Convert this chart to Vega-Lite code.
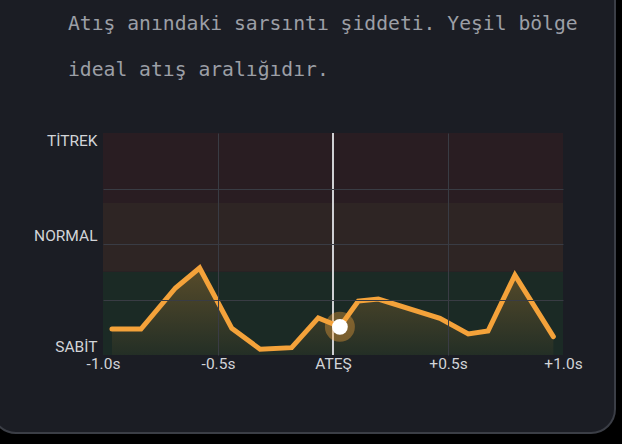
{
  "$schema": "https://vega.github.io/schema/vega-lite/v6.json",
  "width": 460,
  "height": 222,
  "autosize": {"type": "none"},
  "padding": {"left": 103, "top": 133, "right": 59, "bottom": 89},
  "background": "#000000",
  "title": {
    "text": ["Atış anındaki sarsıntı şiddeti. Yeşil bölge", "ideal atış aralığıdır."],
    "anchor": "start",
    "frame": "group",
    "dx": -35,
    "offset": -121,
    "font": "DejaVu Sans Mono",
    "fontSize": 19.7,
    "fontWeight": "normal",
    "color": "#9c9fa6",
    "lineHeight": 46,
    "zindex": 1
  },
  "data": {
    "values": [
      {"t": -0.961, "v": 0.117, "shot": 0},
      {"t": -0.835, "v": 0.117, "shot": 0},
      {"t": -0.685, "v": 0.302, "shot": 0},
      {"t": -0.58, "v": 0.392, "shot": 0},
      {"t": -0.44, "v": 0.12, "shot": 0},
      {"t": -0.317, "v": 0.026, "shot": 0},
      {"t": -0.18, "v": 0.033, "shot": 0},
      {"t": -0.064, "v": 0.167, "shot": 0},
      {"t": 0.03, "v": 0.127, "shot": 1},
      {"t": 0.11, "v": 0.243, "shot": 0},
      {"t": 0.197, "v": 0.252, "shot": 0},
      {"t": 0.465, "v": 0.165, "shot": 0},
      {"t": 0.588, "v": 0.095, "shot": 0},
      {"t": 0.674, "v": 0.108, "shot": 0},
      {"t": 0.791, "v": 0.36, "shot": 0},
      {"t": 0.958, "v": 0.083, "shot": 0}
    ]
  },
  "layer": [
    {
      "data": {"values": [{"panel": "card"}]},
      "mark": {"type": "rect", "clip": false, "cornerRadius": 24, "fill": "#1b1d24", "stroke": "#3b3e46", "strokeWidth": 2},
      "encoding": {
        "x": {
          "datum": -1.4826, "type": "quantitative",
          "scale": {"domain": [-1, 1], "nice": false, "zero": false},
          "axis": {
            "title": null,
            "values": [-1, -0.5, 0, 0.5, 1],
            "labelExpr": "datum.value == -1 ? '-1.0s' : datum.value == -0.5 ? '-0.5s' : datum.value == 0 ? 'ATEŞ' : datum.value == 0.5 ? '+0.5s' : '+1.0s'",
            "ticks": false,
            "domain": false,
            "grid": true,
            "gridColor": "#393c44",
            "gridOpacity": {"condition": {"test": "abs(datum.value) == 0.5", "value": 1}, "value": 0},
            "labelPadding": 1,
            "labelFont": "Roboto",
            "labelFontSize": 15.5,
            "labelColor": "#d2d4d8",
            "labelFlush": false,
            "labelOverlap": false,
            "labelBound": false,
            "zindex": 1
          }
        },
        "x2": {"datum": 1.2261},
        "y": {
          "datum": -0.3514, "type": "quantitative",
          "scale": {"domain": [0, 1], "nice": false, "zero": false},
          "axis": {
            "title": null,
            "values": [0, 0.25, 0.5, 0.75, 1],
            "labelExpr": "datum.value == 0 ? 'SABİT' : datum.value == 0.5 ? 'NORMAL' : datum.value == 1 ? 'TİTREK' : ''",
            "ticks": false,
            "domain": false,
            "grid": true,
            "gridColor": "#393c44",
            "gridOpacity": {"condition": {"test": "datum.value > 0 && datum.value < 1", "value": 1}, "value": 0},
            "labelOffset": {"condition": {"test": "datum.value == 1", "value": 7}, "value": -8.5},
            "labelPadding": 6,
            "labelFont": "Roboto",
            "labelFontSize": 15.5,
            "labelColor": "#d2d4d8",
            "labelFlush": false,
            "labelOverlap": false,
            "labelBound": false,
            "zindex": 1
          }
        },
        "y2": {"datum": 1.779}
      }
    },
    {
      "data": {
        "values": [
          {"zone": "SABİT", "lo": 0, "hi": 0.375},
          {"zone": "NORMAL", "lo": 0.375, "hi": 0.685},
          {"zone": "TİTREK", "lo": 0.685, "hi": 1}
        ]
      },
      "mark": {"type": "rect"},
      "encoding": {
        "x": {"datum": -1, "type": "quantitative"},
        "x2": {"datum": 1},
        "y": {"field": "lo", "type": "quantitative"},
        "y2": {"field": "hi"},
        "color": {
          "field": "zone",
          "type": "nominal",
          "scale": {"domain": ["SABİT", "NORMAL", "TİTREK"], "range": ["#1b2a25", "#2e2524", "#291d22"]},
          "legend": null
        }
      }
    },
    {
      "mark": {
        "type": "area",
        "color": {
          "gradient": "linear",
          "x1": 0, "y1": 0, "x2": 0, "y2": 1,
          "stops": [
            {"offset": 0, "color": "rgba(245,162,55,0.28)"},
            {"offset": 1, "color": "rgba(245,162,55,0.04)"}
          ]
        }
      },
      "encoding": {
        "x": {"field": "t", "type": "quantitative"},
        "y": {"field": "v", "type": "quantitative"}
      }
    },
    {
      "data": {"values": [{"t": 0}]},
      "mark": {"type": "rule", "color": "#cfd0d3", "strokeWidth": 2},
      "encoding": {"x": {"field": "t", "type": "quantitative"}}
    },
    {
      "mark": {"type": "line", "color": "#f4a23a", "strokeWidth": 5, "strokeCap": "round", "strokeJoin": "miter"},
      "encoding": {
        "x": {"field": "t", "type": "quantitative"},
        "y": {"field": "v", "type": "quantitative"}
      }
    },
    {
      "transform": [{"filter": "datum.shot == 1"}],
      "mark": {"type": "point", "filled": true, "color": "#f4a23a", "opacity": 0.38, "size": 900},
      "encoding": {
        "x": {"field": "t", "type": "quantitative"},
        "y": {"field": "v", "type": "quantitative"}
      }
    },
    {
      "transform": [{"filter": "datum.shot == 1"}],
      "mark": {"type": "point", "filled": true, "color": "#ffffff", "opacity": 1, "size": 250},
      "encoding": {
        "x": {"field": "t", "type": "quantitative"},
        "y": {"field": "v", "type": "quantitative"}
      }
    }
  ],
  "resolve": {"scale": {"color": "independent"}},
  "config": {
    "view": {"stroke": "#3b3e46", "strokeWidth": 1},
    "font": "Roboto"
  }
}
